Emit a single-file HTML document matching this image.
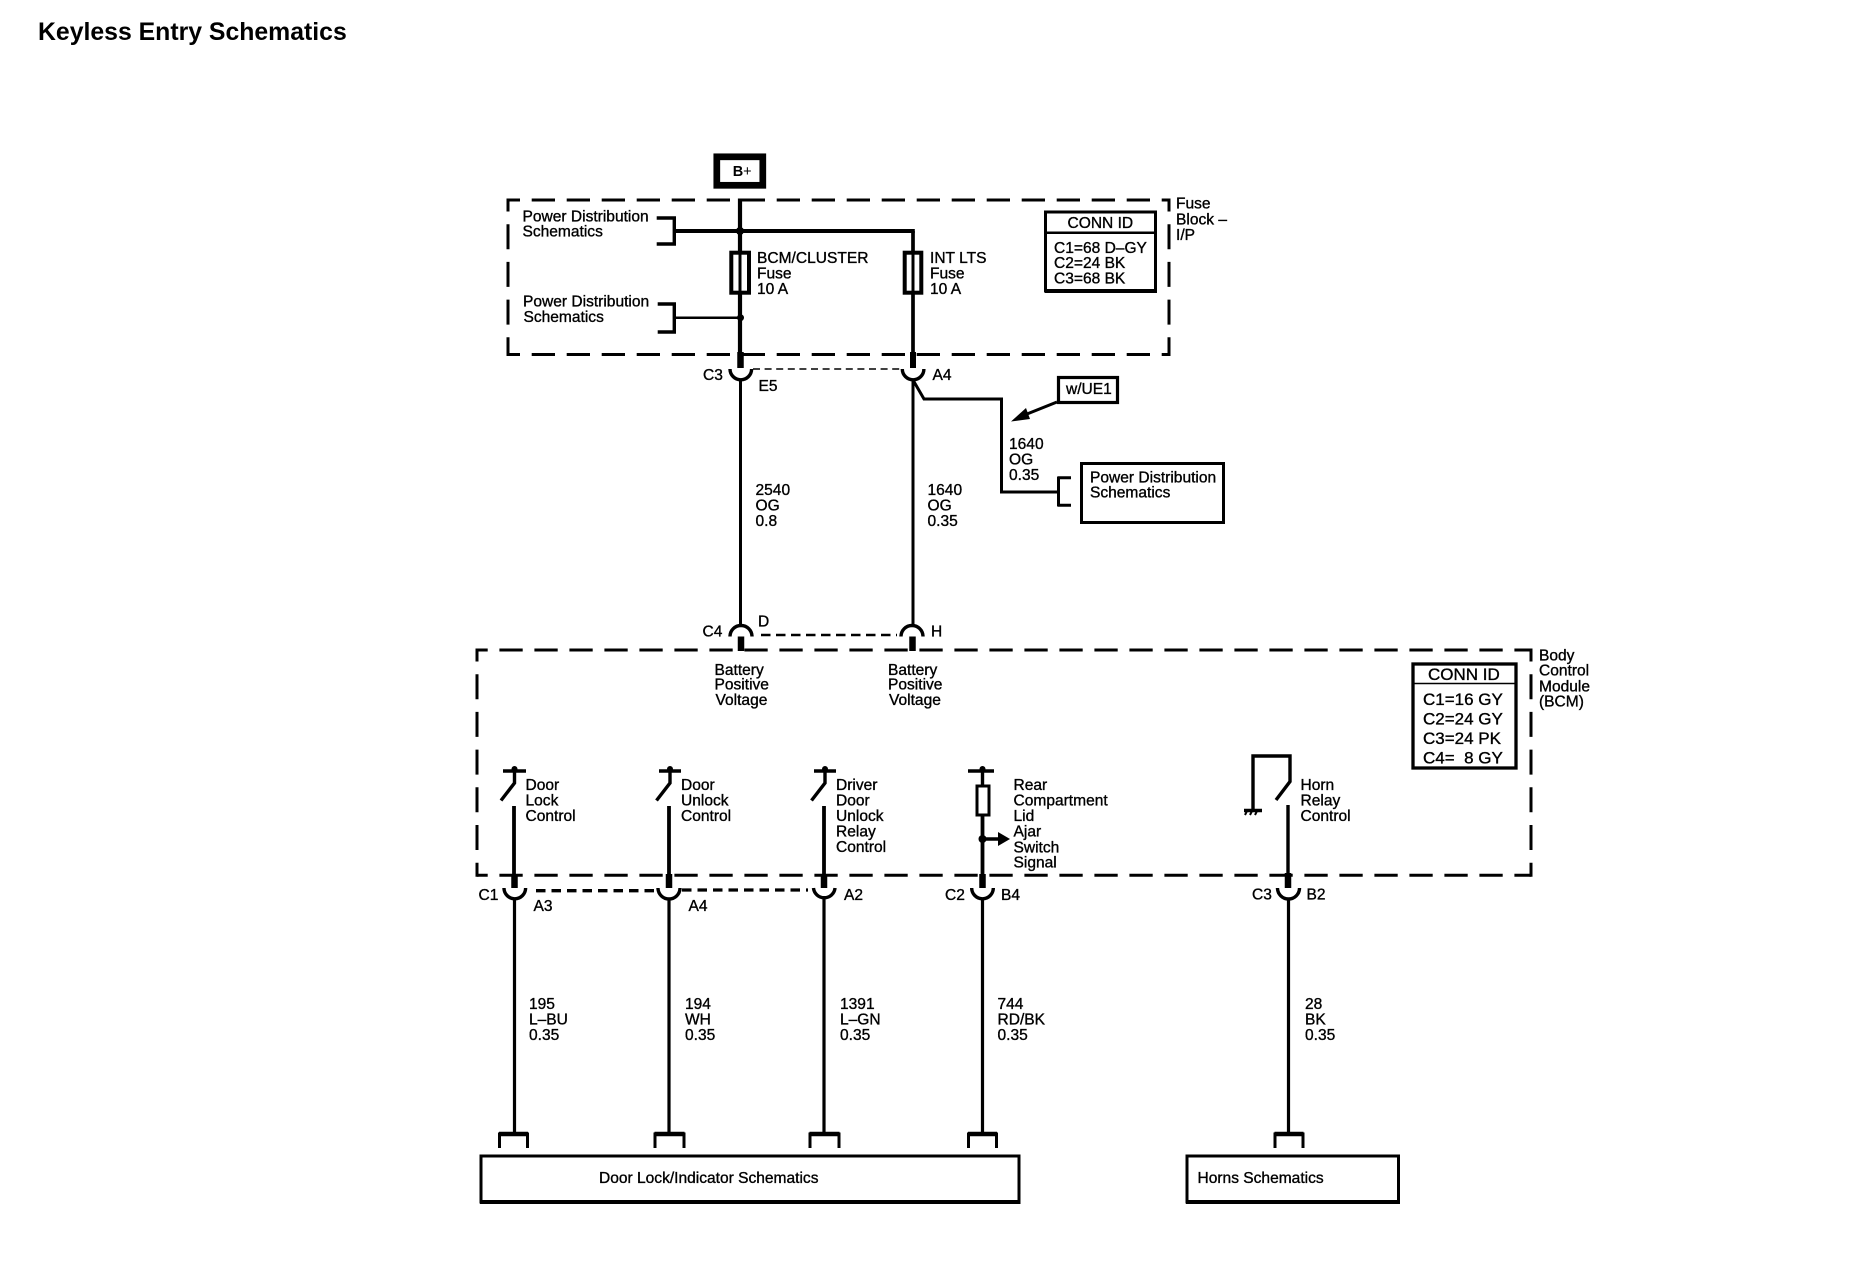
<!DOCTYPE html>
<html><head><meta charset="utf-8"><style>
html,body{margin:0;padding:0;background:#fff;width:1860px;height:1264px;overflow:hidden}
svg{display:block}
text{font-family:"Liberation Sans",sans-serif;font-size:15.55px;fill:#000;stroke:#000;stroke-width:.35}
.big{font-size:17px}
.t{font-size:24.8px;font-weight:bold;stroke:none}
.w{fill:none;stroke:#000}
</style></head><body>
<svg width="1860" height="1264" viewBox="0 0 1860 1264" xmlns="http://www.w3.org/2000/svg">
<text class="t" x="38" y="40">Keyless Entry Schematics</text>

<!-- B+ -->
<rect x="716.800" y="156.800" width="46" height="28.500" class="w" stroke-width="6.700"/>
<text x="732.700" y="176" style="font-size:14.500px;font-weight:bold;stroke:none">B<tspan style="font-weight:normal">+</tspan></text>

<!-- Fuse block dashed -->
<g class="w" stroke-width="3" fill="none">
<path d="M508 200H1169" stroke-dasharray="23.300 11.700" stroke-dashoffset="11.300"/>
<path d="M508 354.500H1169" stroke-dasharray="23.300 11.700" stroke-dashoffset="11.300"/>
<path d="M508 198.500V356" stroke-dasharray="25 12.700" stroke-dashoffset="12"/>
<path d="M1169 198.500V356" stroke-dasharray="25 12.700" stroke-dashoffset="12"/>
</g>
<!-- upper wiring -->
<g class="w">
<path d="M740 198.500V353" stroke-width="4.200"/>
<path d="M913 231V353" stroke-width="3.700"/>
<path d="M674 231H914.800" stroke-width="4"/>
<path d="M656.700 218H674.300V244H656.700" stroke-width="3.400"/>
<path d="M657.700 304H674.300V332H657.700" stroke-width="3.400"/>
<path d="M674 317.700H740" stroke-width="2.500"/>
<rect x="731.300" y="252.700" width="17.700" height="40" fill="#fff" stroke-width="4"/>
<path d="M740 252V293" stroke-width="3"/>
<rect x="904.700" y="252.700" width="16.600" height="40" fill="#fff" stroke-width="4"/>
<path d="M913 252V293" stroke-width="3"/>
<path d="M740.500 352V368" stroke-width="6.500"/>
<path d="M913 352V368" stroke-width="6"/>
<path d="M730 369A10.800 10.800 0 0 0 751.600 369" stroke-width="3.400"/>
<path d="M902.300 369A10.800 10.800 0 0 0 923.900 369" stroke-width="3.400"/>
<path d="M753 369H901" stroke-width="1.600" stroke-dasharray="7 4.600"/>
<path d="M740.500 380V625" stroke-width="3"/>
<path d="M913 380V625" stroke-width="3"/>
<path d="M913 380L924 399H1001.500V492H1057" stroke-width="3"/>
<path d="M1058 477.700H1071M1058 505.300H1071" stroke-width="3"/>
<path d="M1058.500 476.500V506.500" stroke-width="3"/>
<rect x="1081.500" y="463.500" width="142" height="59" stroke-width="3"/>
<rect x="1058.500" y="377.500" width="59" height="25" stroke-width="3.200"/>
<path d="M1057 402L1022 416" stroke-width="3"/>
</g>
<polygon points="1011,421.500 1026,408 1030,419" fill="#000"/>
<circle cx="740" cy="231" r="4"/>
<circle cx="740.500" cy="317.700" r="3.500"/>

<!-- Conn ID upper -->
<rect x="1045.500" y="212" width="110" height="79" class="w" stroke-width="3"/>
<path d="M1045 232.700H1156" class="w" stroke-width="2.500"/>
<path d="M1045 291H1157" class="w" stroke-width="4"/>
<text x="1067.500" y="228">CONN ID</text>
<text x="1054" y="253">C1=68 D–GY</text>
<text x="1054" y="268">C2=24 BK</text>
<text x="1054" y="283.500">C3=68 BK</text>

<text x="1176" y="208.300">Fuse</text>
<text x="1176" y="224.300">Block –</text>
<text x="1176" y="240">I/P</text>

<text x="522.500" y="221.700">Power Distribution</text>
<text x="522.500" y="236.700">Schematics</text>
<text x="523" y="306.700">Power Distribution</text>
<text x="523.500" y="322">Schematics</text>
<text x="757" y="263">BCM/CLUSTER</text>
<text x="757" y="278.500">Fuse</text>
<text x="757" y="294">10 A</text>
<text x="930" y="263">INT LTS</text>
<text x="930" y="278.500">Fuse</text>
<text x="930" y="294">10 A</text>
<text x="703" y="380">C3</text>
<text x="758.500" y="391">E5</text>
<text x="932.500" y="380">A4</text>
<text x="755.500" y="495">2540</text>
<text x="755.500" y="510.700">OG</text>
<text x="755.500" y="526">0.8</text>
<text x="927.500" y="495">1640</text>
<text x="927.500" y="510.700">OG</text>
<text x="927.500" y="526">0.35</text>
<text x="1009" y="449">1640</text>
<text x="1009" y="464.500">OG</text>
<text x="1009" y="480">0.35</text>
<text x="1090" y="482.700">Power Distribution</text>
<text x="1090" y="497.700">Schematics</text>
<text x="1066" y="394">w/UE1</text>

<!-- C4 connectors -->
<g class="w">
<path d="M730 636.500A11 11 0 0 1 752 636.500" stroke-width="3.400"/>
<path d="M901 636.500A11 11 0 0 1 923 636.500" stroke-width="3.400"/>
<path d="M741 636.500V651" stroke-width="6.500"/>
<path d="M912.500 636.500V651" stroke-width="6.500"/>
<path d="M761 635H897" stroke-width="2.500" stroke-dasharray="9.500 5.500"/>
</g>
<text x="702.500" y="636.700">C4</text>
<text x="758" y="626.700">D</text>
<text x="931" y="636.700">H</text>

<!-- BCM dashed -->
<g class="w" stroke-width="3" fill="none">
<path d="M477 650H1531" stroke-dasharray="23.300 11.700" stroke-dashoffset="12.600"/>
<path d="M477 875.300H1531" stroke-dasharray="23.300 11.700" stroke-dashoffset="12.600"/>
<path d="M477 648.500V876.800" stroke-dasharray="25 12.700" stroke-dashoffset="12"/>
<path d="M1531 648.500V876.800" stroke-dasharray="25 12.700" stroke-dashoffset="12"/>
</g>
<text x="714.500" y="675">Battery</text>
<text x="714.500" y="689.500">Positive</text>
<text x="715.500" y="705">Voltage</text>
<text x="888" y="675">Battery</text>
<text x="888" y="689.500">Positive</text>
<text x="889" y="705">Voltage</text>

<!-- Switches -->
<g class="w">
<path d="M503 771H526M514.500 768V783L501 800.500" stroke-width="3.400"/>
<path d="M514 806V876" stroke-width="3.800"/>
<path d="M659 771H681M670 768V783L656.500 800.500" stroke-width="3.400"/>
<path d="M669 806V876" stroke-width="3.800"/>
<path d="M814 771H836M825 768V783L811.500 800.500" stroke-width="3.400"/>
<path d="M824 806V876" stroke-width="3.800"/>
<path d="M968 771H994M982.500 768V786" stroke-width="3.400"/>
<rect x="977" y="786" width="12" height="29" stroke-width="3"/>
<path d="M982.500 815V876" stroke-width="3.800"/>
<path d="M982.500 839H999" stroke-width="3.500"/>
<path d="M1244 810.500H1262M1253 810V756H1290V781.500L1276 800" stroke-width="3.400"/>
<path d="M1288 805V876" stroke-width="3.400"/>
<path d="M1247 811L1245 815M1252 811L1250 815M1257 811L1255 815" stroke-width="2"/>
<path d="M514.500 874V888M669 874V888M824 874V888M982.500 874V888M1288 873V888" stroke-width="6.500"/>
<path d="M504 888A10.800 10.800 0 0 0 525.600 888M658 888A11 11 0 0 0 680 888M813.500 888A10.800 10.800 0 0 0 835 888M971.700 888A10.800 10.800 0 0 0 993.300 888M1277.500 888A11 11 0 0 0 1299.500 888" stroke-width="3.400"/>
<path d="M536 890.700H656M682 890H808" stroke-width="3.300" stroke-dasharray="9.500 6"/>
<path d="M514.500 899V1134M669 899V1134M824 899V1134M982.500 899V1134M1288.500 899V1134" stroke-width="3.200"/>
<path d="M499.500 1148V1134H527.500V1148M655 1148V1134H684V1148M810 1148V1134H839V1148M968.500 1148V1134H996.500V1148M1275 1148V1134H1303V1148" stroke-width="3"/>
<path d="M499 1134H528M654.500 1134H684.500M809.500 1134H839.500M968 1134H997M1274.500 1134H1303.500" stroke-width="4.500"/>
<rect x="481" y="1156" width="538" height="46" stroke-width="3"/>
<path d="M480 1202H1020.500" stroke-width="4"/>
<rect x="1187" y="1156" width="211.500" height="46" stroke-width="3"/>
<path d="M1186 1202H1400" stroke-width="4"/>
</g>
<circle cx="514.500" cy="769" r="3"/><circle cx="670" cy="769" r="3"/><circle cx="825" cy="769" r="3"/><circle cx="982.500" cy="769" r="3"/>
<circle cx="982.500" cy="839" r="4"/>
<polygon points="998,832 1010,839 998,846" fill="#000"/>

<text x="525.500" y="790">Door</text><text x="525.500" y="805.500">Lock</text><text x="525.500" y="821">Control</text>
<text x="681" y="790">Door</text><text x="681" y="805.500">Unlock</text><text x="681" y="821">Control</text>
<text x="836" y="790">Driver</text><text x="836" y="805.500">Door</text><text x="836" y="821">Unlock</text><text x="836" y="836.700">Relay</text><text x="836" y="852">Control</text>
<text x="1013.500" y="790">Rear</text><text x="1013.500" y="805.500">Compartment</text><text x="1013.500" y="821">Lid</text><text x="1013.500" y="836.700">Ajar</text><text x="1013.500" y="852.300">Switch</text><text x="1013.500" y="867.500">Signal</text>
<text x="1300.500" y="790">Horn</text><text x="1300.500" y="805.500">Relay</text><text x="1300.500" y="821">Control</text>

<text x="478.500" y="900">C1</text><text x="533.500" y="911">A3</text>
<text x="688.500" y="911">A4</text><text x="844" y="900">A2</text>
<text x="945" y="900">C2</text><text x="1001" y="900">B4</text>
<text x="1252" y="899.500">C3</text><text x="1306.500" y="899.500">B2</text>

<text x="529" y="1009">195</text><text x="529" y="1024.300">L–BU</text><text x="529" y="1040">0.35</text>
<text x="685" y="1009">194</text><text x="685" y="1024.300">WH</text><text x="685" y="1040">0.35</text>
<text x="840" y="1009">1391</text><text x="840" y="1024.300">L–GN</text><text x="840" y="1040">0.35</text>
<text x="997.500" y="1009">744</text><text x="997.500" y="1024.300">RD/BK</text><text x="997.500" y="1040">0.35</text>
<text x="1305" y="1009">28</text><text x="1305" y="1024.300">BK</text><text x="1305" y="1040">0.35</text>

<text x="599" y="1183">Door Lock/Indicator Schematics</text>
<text x="1197.500" y="1183">Horns Schematics</text>

<!-- Conn ID BCM -->
<rect x="1413" y="664" width="103" height="104" class="w" stroke-width="3.300"/>
<path d="M1413 683.500H1516" class="w" stroke-width="1.500"/>
<text class="big" x="1428" y="680">CONN ID</text>
<text class="big" x="1423" y="705">C1=16 GY</text>
<text class="big" x="1423" y="724.500">C2=24 GY</text>
<text class="big" x="1423" y="744">C3=24 PK</text>
<text class="big" x="1423" y="763.500" xml:space="preserve">C4=  8 GY</text>

<text x="1539" y="660.700">Body</text>
<text x="1539" y="675.700">Control</text>
<text x="1539" y="691.300">Module</text>
<text x="1539" y="706.700">(BCM)</text>
</svg>
</body></html>
